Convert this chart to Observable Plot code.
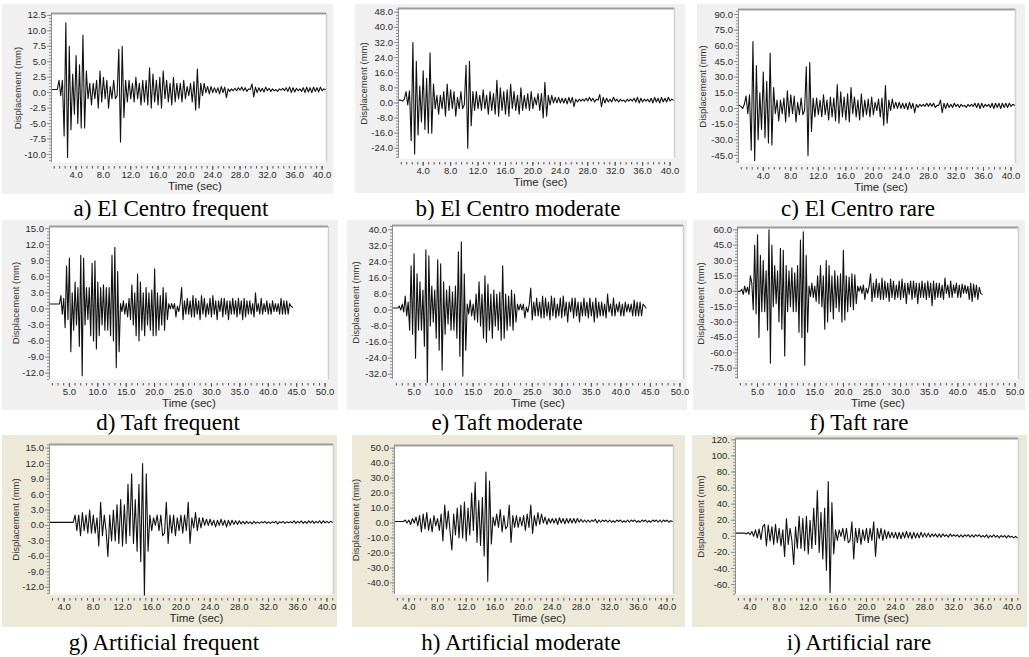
<!DOCTYPE html>
<html><head><meta charset="utf-8">
<script src="https://cdn.jsdelivr.net/npm/d3@7"></script>
<script src="https://cdn.jsdelivr.net/npm/@observablehq/plot@0.6"></script>
<style>
html,body{margin:0;padding:0;background:#fff}
body{width:1029px;height:657px;position:relative;overflow:hidden}
.panel{position:absolute}
.panel svg{position:absolute;left:0;top:0}
.cap{position:absolute;font-family:"Liberation Serif","Times New Roman",serif;font-size:23px;color:#000;white-space:nowrap;transform:translate(-50%,-50%)}
</style></head>
<body>
<script>
// ---------- data (displacement in mm, sampled every 0.25 s) ----------
const sampleStep = 0.25;
const elCentroStart = 0.5;
const taftStart = 1.5;
const artificialStart = 2.0;

const elCentroFrequent = [0.5,0.5,0.5,0.5, 2.0,-0.5,2.0,-7.0, 11.3,-10.5,7.5,-6.0, 3.0,-3.5,6.0,-5.0, 4.5,-5.7,9.3,-5.7,
 3.5,-1.0,1.5,-2.0, 1.5,-1.0,2.0,-2.5, 3.5,-1.5,2.5,-1.0, 2.0,-2.5,1.0,-1.0, 2.0,-1.0,-0.5,7.0,
 -8.0,7.5,-4.0,2.0, -1.5,2.0,-1.0,1.5, -1.5,2.5,-1.0,1.5, -2.0,2.0,-1.5,2.0, -2.0,4.0,-2.5,3.0,
 -1.5,2.0,-2.0,2.5, -2.5,3.5,-1.0,2.0, -1.5,1.5,-2.0,2.5, -1.5,1.5,-1.0,1.5, -1.5,2.0,-1.0,1.0,
 -0.5,1.5,-1.5,1.8, -2.8,3.8,-2.5,1.5, -0.5,1.5,0.0,1.0, -0.2,1.0,0.0,0.8, 0.0,0.8,-0.2,1.0,
 0.0,0.9,-0.8,0.6, 0.2,0.6,0.3,0.7, 0.3,0.8,0.4,0.9, 0.3,0.8,0.2,0.6, 0.5,1.4,-0.7,0.9,
 0.0,0.8,0.2,0.7, 0.1,0.9,0.3,0.7, 0.2,0.6,0.3,0.5, 0.2,0.6,0.4,0.7, 0.3,0.8,0.2,0.9,
 0.0,0.8,0.1,0.7, 0.3,0.6,0.2,0.8, 0.0,0.9,0.1,0.8, 0.0,0.9,0.2,0.8, 0.1,0.9,0.3,0.6, 0.5];

const elCentroModerate = [1.5,1.5,1.0,2.0, 6.0,-1.0,6.5,-20.0, 32.0,-27.0,22.0,-17.0, 9.0,-10.0,17.0,-14.0, 13.0,-16.0,26.5,-16.0,
 10.0,-3.0,4.0,-6.0, 4.0,-3.0,6.0,-7.0, 10.0,-4.0,7.0,-3.0, 6.0,-7.0,3.0,-3.0, 6.0,-3.0,-1.0,20.0,
 -24.0,22.0,-12.0,6.0, -4.0,6.0,-3.0,4.0, -4.0,7.0,-3.0,4.0, -6.0,6.0,-4.0,5.0, -6.0,12.0,-7.0,8.0,
 -4.0,6.0,-6.0,7.0, -7.0,10.0,-3.0,6.0, -4.0,4.0,-6.0,8.0, -4.0,4.0,-3.0,5.0, -4.0,6.0,-3.0,3.0,
 -1.0,5.0,-4.0,5.0, -8.0,11.0,-7.0,4.0, -1.0,4.0,0.0,3.0, 0.0,3.0,0.0,2.5, 0.0,2.5,-0.5,3.0,
 0.0,3.0,-2.0,2.0, 0.5,2.0,1.0,2.0, 1.0,2.5,1.0,3.0, 1.0,2.5,0.5,2.0, 1.5,4.5,-2.0,3.0,
 0.0,2.5,0.5,2.0, 0.5,3.0,1.0,2.0, 0.5,2.0,1.0,1.5, 0.5,2.0,1.0,2.0, 1.0,2.5,0.5,3.0,
 0.0,2.5,0.5,2.0, 1.0,2.0,0.5,2.5, 0.0,3.0,0.5,2.5, 0.0,3.0,0.5,2.5, 0.5,3.0,1.0,2.0, 1.5];

const elCentroRare = [3.0,2.0,0.0,4.0, 12.0,-5.0,13.0,-40.0, 64.0,-50.0,41.0,-30.0, 15.0,-20.0,35.0,-28.0, 26.0,-33.0,53.0,-35.0,
 20.0,-5.0,8.0,-12.0, 8.0,-5.0,10.0,-13.0, 17.0,-8.0,13.0,-5.0, 12.0,-13.0,6.0,-6.0, 10.0,-6.0,-2.0,40.0,
 -45.0,44.0,-22.0,10.0, -8.0,10.0,-6.0,8.0, -8.0,13.0,-6.0,8.0, -11.0,11.0,-8.0,10.0, -12.0,23.0,-14.0,16.0,
 -8.0,11.0,-11.0,14.0, -13.0,20.0,-5.0,11.0, -8.0,8.0,-11.0,14.0, -8.0,8.0,-6.0,9.0, -8.0,11.0,-6.0,6.0,
 -2.0,9.0,-8.0,10.0, -16.0,22.0,-14.0,8.0, -2.0,9.0,0.0,6.0, 0.0,6.0,0.0,5.0, 0.0,5.0,-1.0,6.0,
 0.0,5.0,-4.0,4.0, 1.0,4.0,2.0,4.0, 2.0,5.0,2.0,5.0, 2.0,5.0,1.0,3.0, 3.0,8.0,-4.0,5.0,
 0.0,5.0,1.0,4.0, 1.0,5.0,2.0,4.0, 1.0,4.0,2.0,3.0, 1.0,4.0,2.0,4.0, 2.0,5.0,1.0,5.0,
 0.0,5.0,1.0,4.0, 2.0,4.0,1.0,5.0, 0.0,5.0,1.0,5.0, 0.0,5.0,1.0,5.0, 1.0,5.0,2.0,4.0, 3.0];

const taftFrequent = [0.9,0.9, 0.9,0.9,0.9,0.9, 0.9,0.9,2.5,-1.0, 2.0,-3.5,8.0,-2.0, 9.5,-8.0,3.0,-4.0,
 5.0,-3.0,4.0,-7.0, 10.0,-12.5,9.5,-3.0, 4.0,-2.0,4.0,-5.0, 8.5,-6.0,9.0,-7.5, 5.0,-5.0,4.0,-3.0,
 4.5,-4.0,4.0,-4.0, 4.0,-5.0,10.0,-6.0, 11.5,-11.0,7.0,-8.0, 1.0,-0.5,1.5,-1.0, 1.0,-1.5,2.0,-2.0,
 4.5,-3.0,3.0,-5.0, 6.5,-6.0,5.0,-4.0, 3.0,-5.0,4.0,-3.0, 3.0,-4.0,3.5,-5.0, 7.5,-5.0,3.0,-4.0,
 2.5,-3.0,4.0,-4.0, 3.0,-2.0,1.0,0.0, 1.0,0.0,1.0,-1.5, 0.5,-0.5,1.0,4.0, -2.0,1.5,-1.0,2.0,
 -1.0,1.5,-1.5,2.5, -1.5,2.0,-1.0,1.5, -2.0,2.5,-1.0,2.0, -1.5,1.0,-1.0,2.0, -1.5,2.5,-1.0,1.5,
 -2.0,1.5,-0.5,2.0, -1.5,2.0,-1.0,1.5, -2.0,1.5,-1.0,2.0, -1.0,1.5,-1.5,2.0, -1.0,1.5,-2.0,2.0,
 -1.5,1.5,-1.0,1.5, -1.0,1.0,-1.5,3.0, -0.5,1.0,-1.0,2.0, -1.0,1.0,-0.5,1.5, -1.0,1.0,-1.0,1.5,
 -0.5,1.0,-0.5,1.0, -1.0,2.0,-1.0,1.5, -1.0,1.5,-1.0,1.0, 0.5,0.3];

const taftModerate = [1.0,1.0, 1.0,1.0,2.0,0.0, 3.0,-1.0,7.0,-3.0, 4.0,-10.0,22.0,-12.0, 28.0,-24.0,18.0,-10.0,
 14.0,-10.0,10.0,-18.0, 30.0,-36.0,27.0,-8.0, 12.0,-6.0,10.0,-14.0, 25.0,-20.0,23.0,-30.0, 14.0,-12.0,10.0,-7.0,
 12.0,-10.0,9.0,-10.0, 12.0,-14.0,29.0,-23.0, 34.0,-33.0,18.0,-20.0, 3.0,-2.0,5.0,-3.0, 3.0,-5.0,8.0,-6.0,
 14.0,-8.0,8.0,-14.0, 17.0,-16.0,13.0,-10.0, 8.0,-14.0,10.0,-8.0, 8.0,-10.0,9.0,-15.0, 22.0,-14.0,8.0,-10.0,
 7.0,-8.0,10.0,-10.0, 8.0,-6.0,3.0,0.0, 3.0,0.0,3.0,-4.0, 1.5,-1.0,3.0,11.0, -5.0,4.0,-3.0,6.0,
 -3.0,4.0,-4.0,7.0, -4.0,6.0,-3.0,4.0, -5.0,7.0,-3.0,6.0, -4.0,3.0,-3.0,6.0, -4.0,7.0,-3.0,4.0,
 -6.0,4.0,-1.0,6.0, -4.0,6.0,-3.0,4.0, -6.0,4.0,-3.0,6.0, -3.0,4.0,-4.0,6.0, -3.0,4.0,-6.0,6.0,
 -4.0,4.0,-3.0,4.0, -3.0,3.0,-4.0,8.0, -1.0,3.0,-3.0,6.0, -3.0,3.0,-1.0,4.0, -3.0,3.0,-3.0,4.0,
 -1.0,3.0,-1.0,3.0, -3.0,5.0,-3.0,4.0, -3.0,4.0,-3.0,3.0, 2.0,1.0];

const taftRare = [0.0,0.0, 0.0,2.0,-3.0,5.0, -1.0,4.0,-3.0,15.0, 8.0,-18.0,45.0,-22.0, 55.0,-45.0,35.0,-20.0,
 30.0,-20.0,20.0,-38.0, 60.0,-70.0,45.0,-15.0, 25.0,-12.0,20.0,-30.0, 42.0,-37.0,40.0,-63.0, 25.0,-20.0,20.0,-15.0,
 23.0,-20.0,18.0,-20.0, 25.0,-40.0,50.0,-45.0, 58.0,-72.0,35.0,-40.0, 5.0,-5.0,8.0,-6.0, 5.0,-10.0,15.0,-12.0,
 25.0,-15.0,15.0,-37.0, 30.0,-30.0,25.0,-20.0, 15.0,-27.0,20.0,-16.0, 15.0,-20.0,17.0,-30.0, 40.0,-28.0,15.0,-20.0,
 14.0,-15.0,17.0,-18.0, 16.0,-12.0,5.0,0.0, 5.0,-2.0,6.0,-8.0, 3.0,-2.0,5.0,17.0, -10.0,8.0,-6.0,12.0,
 -6.0,8.0,-8.0,13.0, -8.0,10.0,-6.0,8.0, -10.0,12.0,-6.0,10.0, -8.0,6.0,-6.0,10.0, -8.0,12.0,-6.0,8.0,
 -12.0,8.0,-3.0,10.0, -8.0,10.0,-6.0,8.0, -12.0,8.0,-6.0,10.0, -6.0,8.0,-8.0,10.0, -6.0,8.0,-14.0,10.0,
 -8.0,8.0,-6.0,8.0, -6.0,6.0,-8.0,13.0, -2.0,6.0,-6.0,10.0, -6.0,6.0,-2.0,8.0, -6.0,6.0,-6.0,7.0,
 -2.0,6.0,-2.0,5.0, -8.0,8.0,-10.0,7.0, -6.0,6.0,-8.0,4.0, -2.0,-3.0];

const artificialFrequent = [0.6,0.6,0.6,0.6, 0.6,0.6,0.6,0.6, 0.6,0.6,0.6,0.6, 0.6,0.6,2.0,-1.0, 2.0,-2.0,2.5,-1.0,
 2.0,-1.5,3.0,-1.5, 2.0,-1.5,1.5,-4.0, 4.5,-2.0,2.0,-1.0, -6.0,2.0,-3.0,3.0, -3.0,4.0,-3.5,5.0,
 -4.0,4.0,-3.5,8.0, -2.0,10.0,-3.5,5.0, -5.0,8.0,-7.0,12.0, -13.5,10.0,-5.0,2.0, -1.0,1.5,0.0,2.0,
 -1.0,2.0,-2.0,-1.5, 4.5,-3.5,2.0,-1.5, 2.0,-2.0,1.5,-1.0, 2.0,-1.5,2.0,-1.0, 4.5,-3.5,1.5,-0.5,
 2.5,-1.0,1.5,-0.5, 1.5,0.0,1.2,0.0, 1.2,0.0,1.0,-0.3, 1.0,0.0,1.2,0.0, 1.0,-0.3,1.0,0.0,
 1.0,0.2,0.9,0.2, 0.9,0.3,0.8,0.3, 0.8,0.4,0.7,0.3, 0.8,0.4,0.7,0.4, 0.7,0.5,0.8,0.4,
 0.7,0.4,0.7,0.5, 0.8,0.3,0.7,0.5, 0.8,0.4,0.7,0.5, 0.7,0.5,0.9,0.4, 0.8,0.5,0.9,0.4,
 0.8,0.4,0.9,0.5, 0.9,0.4,0.8,0.5, 0.9,0.4,0.9,0.5, 0.8,0.5,0.8,0.6];

const artificialModerate = [1,1,1,1, 1,1,2,0, 2,-1,3,0, 4,-2,5,-6, 6,-4,7,-5,
 3,-6,5,-2, 3,-5,6,-12, 12,-4,8,-6, -18,6,-8,10, -10,12,-10,14,
 -12,10,-8,20, -5,27,-13,15, -15,17,-22,34, -39,28,-14,4, -2,6,-3,9,
 -6,5,-4,-2, 12,-13,5,-3, 5,-3,4,-2, 5,-5,6,-3, 12,-7,5,-2,
 7,-1,6,0, 4,-1,3,0, 3,0,3,-1, 3.5,0,3,-0.5, 3,0,3,0,
 3,0,3,0.5, 2.5,0.5,2,0.5, 2,0.5,2,1, 2.5,0,2,0.5, 2,1,2,0.5,
 2,0.5,1.5,0.5, 2,1,2,0.5, 1.5,0.5,2,0.5, 2,1,2,0.5, 1.5,0.5,2,1,
 2,0.5,1.5,0.5, 2,1,2,0.5, 2,0.5,2,1, 2,0.5,1.5,1];

const artificialRare = [4,4,4,4, 4,4,3,5, 2,6,0,8, -2,9,-4,12, 15,-12,14,-6,
 12,-10,15,-8, 10,-12,8,-25, 22,-10,10,-5, -35,12,-15,25, -15,22,-18,25,
 -22,20,-15,35, -10,57,-20,30, -28,35,-42,68, -70,42,-22,8, -5,8,0,10,
 -5,10,-8,-5, 18,-28,10,-8, 10,-10,8,-5, 10,-8,10,-5, 18,-25,10,-3,
 10,-5,8,-3, 6,-2,5,-2, 5,-3,5,-3, 5,-2,6,-2, 5,-3,5,-2,
 4,-2,5,-1, 4,-1,4,-1, 3,0,3,-1, 3,-1,3,0, 2,-1,3,0,
 2,0,2,-1, 2,-1,2,0, 2,-1,2,-1, 2,0,2,-1, 1,-1,2,-2,
 1,-1,2,-1, 1,-2,1,-1, 1,-2,1,-1, 0,-2,0,-2];

// ---------- tick labels ----------
const elCentroTimeTicks = [4,8,12,16,20,24,28,32,36,40];
const taftTimeTicks = [5,10,15,20,25,30,35,40,45,50];
const artificialTimeTicks = [4,8,12,16,20,24,28,32,36,40];
const yTicksA = [12.5,10,7.5,5,2.5,0,-2.5,-5,-7.5,-10];
const yTicksB = [48,40,32,24,16,8,0,-8,-16,-24];
const yTicksC = [90,75,60,45,30,15,0,-15,-30,-45];
const yTicksD = [15,12,9,6,3,0,-3,-6,-9,-12];
const yTicksE = [40,32,24,16,8,0,-8,-16,-24,-32];
const yTicksF = [60,45,30,15,0,-15,-30,-45,-60,-75];
const yTicksG = [15,12,9,6,3,0,-3,-6,-9,-12];
const yTicksH = [50,40,30,20,10,0,-10,-20,-30,-40];
const yTicksI = [120,100,80,60,40,20,0,-20,-40,-60];
const captions = ["a) El Centro frequent","b) El Centro moderate","c) El Centro rare",
  "d) Taft frequent","e) Taft moderate","f) Taft rare",
  "g) Artificial frequent","h) Artificial moderate","i) Artificial rare"];

// ---------- layout ----------
const GRAY = "#f0f0f0", BEIGE = "#ece9d8";
const fmt1 = d => d.toFixed(1);
const fmtDot = d => d.toFixed(0) + ".";
const panels = [
 {values: elCentroFrequent, t0: elCentroStart, xTicks: elCentroTimeTicks, xMinor: 0.8, xDomain: [0.4, 40.65], yTicks: yTicksA, yDomain: [-11.3, 12.8], yFmt: fmt1,
  bg: [2,4,333,194], frame: [51,13,326,162], dispX: 17, timeDx: 6, bgColor: GRAY, cap: [171,209]},
 {values: elCentroModerate, t0: elCentroStart, xTicks: elCentroTimeTicks, xMinor: 0.8, xDomain: [0.4, 40.65], yTicks: yTicksB, yDomain: [-29.4, 50.0], yFmt: fmt1,
  bg: [355,4,685,193], frame: [398,8,674,158], dispX: 363, timeDx: 4, bgColor: GRAY, cap: [518,209]},
 {values: elCentroRare, t0: elCentroStart, xTicks: elCentroTimeTicks, xMinor: 0.8, xDomain: [0.4, 40.65], yTicks: yTicksC, yDomain: [-52.7, 94.8], yFmt: fmt1,
  bg: [697,4,1025,193], frame: [738,9,1015,163], dispX: 702, timeDx: 4, bgColor: GRAY, cap: [858,209]},
 {values: taftFrequent, t0: taftStart, xTicks: taftTimeTicks, xMinor: 1, xDomain: [1.5, 50.6], yTicks: yTicksD, yDomain: [-13.2, 15.4], yFmt: fmt1,
  bg: [2,220,338,410], frame: [49,226,328,379], dispX: 15, timeDx: 0, bgColor: GRAY, cap: [168,423]},
 {values: taftModerate, t0: taftStart, xTicks: taftTimeTicks, xMinor: 1, xDomain: [1.35, 50.6], yTicks: yTicksE, yDomain: [-34.6, 42.1], yFmt: fmt1,
  bg: [347,220,687,410], frame: [392,225,683,379], dispX: 355, timeDx: 0, bgColor: GRAY, cap: [507,423]},
 {values: taftRare, t0: taftStart, xTicks: taftTimeTicks, xMinor: 1, xDomain: [1.5, 50.6], yTicks: yTicksF, yDomain: [-86.0, 62.2], yFmt: fmt1,
  bg: [693,220,1025,410], frame: [737,227,1018,379], dispX: 700, timeDx: 0, bgColor: GRAY, cap: [859,423]},
 {values: artificialFrequent, t0: artificialStart, xTicks: artificialTimeTicks, xMinor: 0.8, xDomain: [2.0, 40.9], yTicks: yTicksG, yDomain: [-13.4, 15.7], yFmt: fmt1,
  bg: [2,435,337,627], frame: [49,444,333,594], dispX: 15, timeDx: 5, bgColor: BEIGE, cap: [164,643]},
 {values: artificialModerate, t0: artificialStart, xTicks: artificialTimeTicks, xMinor: 0.8, xDomain: [2.0, 40.9], yTicks: yTicksH, yDomain: [-47.8, 51.8], yFmt: fmt1,
  bg: [352,435,685,627], frame: [394,445,673,594], dispX: 355, timeDx: 5, bgColor: BEIGE, cap: [521,643]},
 {values: artificialRare, t0: artificialStart, xTicks: artificialTimeTicks, xMinor: 0.8, xDomain: [2.0, 40.9], yTicks: yTicksI, yDomain: [-72.3, 121.6], yFmt: fmtDot,
  bg: [692,435,1027,627], frame: [735,438,1018,594], dispX: 700, timeDx: 5, bgColor: BEIGE, cap: [859,643]}
];

function minorTicks(step, lo, hi) {
  const out = [];
  const n0 = Math.ceil(lo / step - 1e-9), n1 = Math.floor(hi / step + 1e-9);
  for (let k = n0; k <= n1; k++) out.push(Math.round(k * step * 1000) / 1000);
  return out;
}

panels.forEach((p, idx) => {
  const [bx0, by0, bx1, by1] = p.bg;
  const [fx0, fy0, fx1, fy1] = p.frame;
  const W = bx1 - bx0, H = by1 - by0;
  const data = p.values.map((v, i) => ({t: p.t0 + i * sampleStep, v}));
  const yStep = Math.abs(p.yTicks[0] - p.yTicks[1]);
  const yMinor = minorTicks(yStep / 5, p.yDomain[0], p.yDomain[1]);
  const xMinor = minorTicks(p.xMinor, p.xDomain[0], p.xDomain[1]);
  const svg = Plot.plot({
    width: W, height: H,
    marginLeft: fx0 - bx0, marginTop: fy0 - by0, marginRight: bx1 - fx1, marginBottom: by1 - fy1,
    style: {background: "transparent", fontFamily: "'Liberation Sans', Arial, sans-serif", fontSize: "9.5px", overflow: "visible"},
    x: {domain: p.xDomain},
    y: {domain: p.yDomain},
    marks: [
      Plot.frame({fill: "white", stroke: "none"}),
      Plot.line(data, {x: "t", y: "v", stroke: "#111", strokeWidth: 1.1}),
      Plot.ruleY([p.yDomain[1]], {stroke: "#9c9c9c", strokeWidth: 2}),
      Plot.ruleX([p.xDomain[1]], {stroke: "#cfcfcf", strokeWidth: 1.5}),
      Plot.ruleX([p.xDomain[0]], {stroke: "#8f8f8f", strokeWidth: 1}),
      Plot.axisY(yMinor, {anchor: "left", tickSize: 2, tickFormat: () => "", stroke: "#8f8f8f", label: null}),
      Plot.axisY(p.yTicks, {anchor: "left", tickSize: 4, tickPadding: 1.5, tickFormat: p.yFmt, stroke: "#8f8f8f", fill: "#2a2a2a", label: null}),
      Plot.axisX(xMinor, {anchor: "bottom", tickSize: 2.5, dy: 4, tickFormat: () => "", stroke: "#555", label: null}),
      Plot.axisX(p.xTicks, {anchor: "bottom", tickSize: 4, dy: 4, tickPadding: 0.5, tickFormat: fmt1, stroke: "#555", fill: "#2a2a2a", label: null}),
      Plot.text(["Displacement (mm)"], {frameAnchor: "left", textAnchor: "middle", text: d => d, rotate: -90, dx: -(fx0 - p.dispX), fontSize: 9.5, fill: "#333"}),
      Plot.text(["Time (sec)"], {frameAnchor: "bottom", textAnchor: "middle", text: d => d, dy: 24, dx: p.timeDx, lineAnchor: "middle", fontSize: 11.5, fill: "#2a2a2a"})
    ]
  });
  const div = document.createElement("div");
  div.className = "panel";
  div.style.left = bx0 + "px"; div.style.top = by0 + "px";
  div.style.width = W + "px"; div.style.height = H + "px";
  div.style.background = p.bgColor;
  div.appendChild(svg);
  document.body.appendChild(div);
  const cap = document.createElement("div");
  cap.className = "cap";
  cap.textContent = captions[idx];
  cap.style.left = p.cap[0] + "px"; cap.style.top = p.cap[1] + "px";
  document.body.appendChild(cap);
});
</script>
</body></html>
